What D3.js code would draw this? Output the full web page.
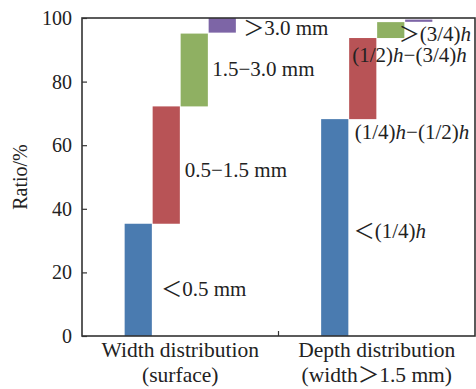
<!DOCTYPE html>
<html>
<head>
<meta charset="utf-8">
<script src="https://cdn.jsdelivr.net/npm/d3@7/dist/d3.min.js"></script>
<style>
  body { margin: 0; background: #fff; }
  svg { display: block; }
  text { font-family: "Liberation Serif", "Times New Roman", "Noto Sans CJK SC", serif; fill: #222; }
</style>
</head>
<body>
<div id="chart"></div>
<script>
const categories = ['Width distribution|(surface)', 'Depth distribution|(width＞1.5 mm)'];
const segmentLabels = [
  ['＜0.5 mm', '0.5−1.5 mm', '1.5−3.0 mm', '＞3.0 mm'],
  ['＜(1/4)*h*', '(1/4)*h*−(1/2)*h*', '(1/2)*h*−(3/4)*h*', '＞(3/4)*h*'],
];
// start / end of each stacked step, %
const segmentStart = [
  [0, 35.3, 72.2, 95.4],
  [0, 68.2, 93.7, 98.8],
];
const segmentEnd = [
  [35.3, 72.2, 95.1, 100],
  [68.2, 93.7, 98.7, 99.5],
];
const yTicks = [0, 20, 40, 60, 80, 100];
const colors = ['#4a7bb0', '#b85356', '#8fb062', '#7d65a6'];

const W = 476, H = 389;
const margin = { top: 18, right: 1, bottom: 53, left: 82 };
const width = W - margin.left - margin.right;
const height = H - margin.top - margin.bottom;

const svg = d3.select('#chart').append('svg')
  .attr('width', W)
  .attr('height', H)
  .append('g')
  .attr('transform', `translate(${margin.left}, ${margin.top})`);

const x = d3.scaleBand()
  .domain(categories)
  .range([0, width]);

const y = d3.scaleLinear()
  .domain([0, 100])
  .range([height, 0]);

const groupWidth = x.bandwidth() * 0.57;
const sub = d3.scaleBand()
  .domain(d3.range(4))
  .range([-groupWidth / 2, groupWidth / 2]);

const rows = [];
categories.forEach((c, ci) => {
  segmentStart[ci].forEach((s, i) => {
    rows.push({
      cat: c, ci, i, start: s, end: segmentEnd[ci][i], label: segmentLabels[ci][i],
    });
  });
});

const barX = d => x(d.cat) + x.bandwidth() / 2 + sub(d.i);

svg.selectAll('.bar')
  .data(rows)
  .enter()
  .append('rect')
  .attr('class', 'bar')
  .attr('x', d => barX(d) + 0.4)
  .attr('y', d => y(d.end))
  .attr('width', sub.bandwidth() - 0.8)
  .attr('height', d => y(d.start) - y(d.end))
  .attr('fill', d => colors[d.i]);

// label offsets from bar right edge / segment middle
const labelOffset = [
  [[9, 16], [4.5, 12], [4, 6], [7, 10]],
  [[5, 10], [-22, 60], [-52.5, 32], [-34, 20]],
];

const labels = svg.selectAll('.seg-label')
  .data(rows)
  .enter()
  .append('text')
  .attr('class', 'seg-label')
  .attr('x', d => barX(d) + sub.bandwidth() + labelOffset[d.ci][d.i][0])
  .attr('y', d => y((d.start + d.end) / 2) + labelOffset[d.ci][d.i][1])
  .style('font-size', '21px');

labels.each(function (d) {
  const t = d3.select(this);
  d.label.split('*').forEach((part, k) => {
    if (!part) return;
    t.append('tspan')
      .text(part)
      .style('font-style', k % 2 ? 'italic' : 'normal');
  });
});

// frame
svg.append('rect')
  .attr('x', 0)
  .attr('y', 0)
  .attr('width', width)
  .attr('height', height)
  .attr('fill', 'none')
  .attr('stroke', '#333')
  .attr('stroke-width', 1.6);

const axisLeft = d3.axisLeft(y)
  .tickValues(yTicks)
  .tickSizeInner(-5)
  .tickSizeOuter(0)
  .tickPadding(10);

const gy = svg.append('g').call(axisLeft);
gy.select('.domain').remove();
gy.selectAll('line').attr('stroke', '#333').attr('stroke-width', 1.2);
gy.selectAll('text')
  .style('font-family', '"Liberation Serif", serif')
  .style('font-size', '20px')
  .attr('fill', '#222');

// divider tick between categories
svg.append('line')
  .attr('x1', x(categories[1]))
  .attr('x2', x(categories[1]))
  .attr('y1', height)
  .attr('y2', height - 5)
  .attr('stroke', '#333')
  .attr('stroke-width', 1.2);

const cat = svg.selectAll('.cat')
  .data(categories)
  .enter()
  .append('text')
  .attr('class', 'cat')
  .attr('text-anchor', 'middle')
  .attr('x', d => x(d) + x.bandwidth() / 2)
  .attr('y', height + 21)
  .style('font-size', '21.5px');

cat.each(function (d) {
  const t = d3.select(this);
  d.split('|').forEach((line, k) => {
    t.append('tspan')
      .attr('x', x(d) + x.bandwidth() / 2)
      .attr('dy', k ? 25 : 0)
      .text(line);
  });
});

svg.append('text')
  .attr('transform', `translate(${-55}, ${height / 2}) rotate(-90)`)
  .attr('text-anchor', 'middle')
  .style('font-size', '20px')
  .text('Ratio/%');
</script>
</body>
</html>
